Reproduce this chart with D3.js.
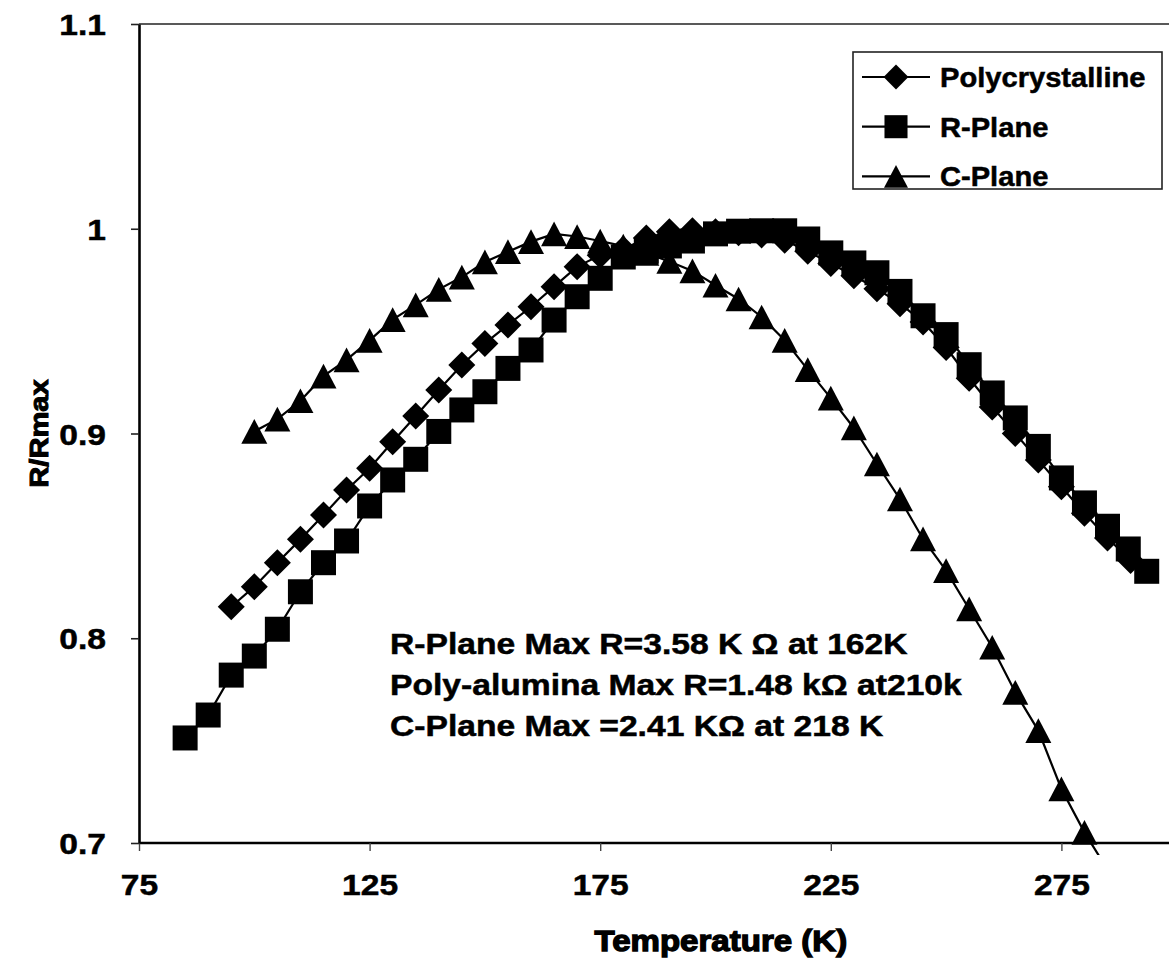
<!DOCTYPE html>
<html>
<head>
<meta charset="utf-8">
<script src="https://cdn.jsdelivr.net/npm/d3@7"></script>
<style>
  html, body { margin: 0; padding: 0; background: #fff; }
  svg { display: block; }
  text { font-family: "Liberation Sans", Arial, sans-serif; font-weight: bold; fill: #000; }
</style>
</head>
<body>
<svg id="chart" width="1169" height="967"></svg>
<script>
// Normalised resistance R/Rmax versus temperature for three alumina samples.
const polyT = [95, 100, 105, 110, 115, 120, 125, 130, 135, 140, 145, 150, 155, 160, 165, 170,
  175, 180, 185, 190, 195, 200, 205, 210, 215, 220, 225, 230, 235, 240, 245, 250, 255, 260,
  265, 270, 275, 280, 285, 290];
const polyR = [0.8154, 0.8252, 0.8369, 0.8483, 0.8602, 0.8724, 0.8830, 0.8960, 0.9086, 0.9212,
  0.9335, 0.9440, 0.9530, 0.9619, 0.9717, 0.9815, 0.9870, 0.9900, 0.9955, 0.9985, 0.9990,
  0.9985, 0.9980, 0.9970, 0.9944, 0.9890, 0.9830, 0.9770, 0.9707, 0.9634, 0.9545, 0.9420,
  0.9270, 0.9130, 0.9000, 0.8870, 0.8740, 0.8610, 0.8490, 0.8380];

const rPlaneT = [85, 90, 95, 100, 105, 110, 115, 120, 125, 130, 135, 140, 145, 150, 155, 160,
  165, 170, 175, 180, 185, 190, 195, 200, 205, 210, 215, 220, 225, 230, 235, 240, 245, 250,
  255, 260, 265, 270, 275, 280, 285, 289.5, 293.5];
const rPlaneR = [0.7513, 0.7625, 0.7820, 0.7913, 0.8044, 0.8227, 0.8369, 0.8475, 0.8646, 0.8773,
  0.8874, 0.9010, 0.9115, 0.9204, 0.9318, 0.9408, 0.9554, 0.9668, 0.9758, 0.9862, 0.9890,
  0.9916, 0.9940, 0.9975, 0.9988, 0.9990, 0.9990, 0.9950, 0.9882, 0.9833, 0.9785, 0.9694,
  0.9575, 0.9483, 0.9336, 0.9198, 0.9076, 0.8937, 0.8783, 0.8661, 0.8547, 0.8436, 0.8327];

const cPlaneT = [100, 105, 110, 115, 120, 125, 130, 135, 140, 145, 150, 155, 160, 165, 170, 175,
  180, 185, 190, 195, 200, 205, 210, 215, 220, 225, 230, 235, 240, 245, 250, 255, 260, 265,
  270, 275, 280, 285];
const cPlaneR = [0.9010, 0.9070, 0.9160, 0.9280, 0.9360, 0.9455, 0.9556, 0.9628, 0.9704, 0.9764,
  0.9838, 0.9888, 0.9937, 0.9975, 0.9962, 0.9940, 0.9915, 0.9880, 0.9840, 0.9794, 0.9724,
  0.9657, 0.9569, 0.9455, 0.9312, 0.9173, 0.9027, 0.8851, 0.8680, 0.8485, 0.8330, 0.8143,
  0.7956, 0.7736, 0.7549, 0.7264, 0.7052, 0.6870];

const seriesNames = ["Polycrystalline", "R-Plane", "C-Plane"];
const xTickValues = [75, 125, 175, 225, 275];
const yTickValues = [0.7, 0.8, 0.9, 1, 1.1];
const annotationLines = [
  "R-Plane Max R=3.58 K \u03A9 at 162K",
  "Poly-alumina Max R=1.48 k\u03A9 at210k",
  "C-Plane Max =2.41 K\u03A9 at 218 K"
];
const xTitle = "Temperature (K)";
const yTitle = "R/Rmax";

// ---- layout ----
const svg = d3.select("#chart");
const plotLeft = 139, plotTop = 24, plotBottom = 843, plotRight = 1169;
const x = d3.scaleLinear().domain([75, 300]).range([plotLeft, plotLeft + 225 * 4.612]);
const y = d3.scaleLinear().domain([0.7, 1.1]).range([plotBottom, plotTop]);
const stretch = 1.12;   // glyphs are set slightly wide
const ink = 0.5;        // extra stroke that thickens the bold glyphs

// Marker shapes centred on their bounding box
const diamond = { draw(ctx, s) { const r = Math.sqrt(s) / 2; ctx.moveTo(0, -r); ctx.lineTo(r, 0); ctx.lineTo(0, r); ctx.lineTo(-r, 0); ctx.closePath(); } };
const square = { draw(ctx, s) { const r = Math.sqrt(s) / 2; ctx.rect(-r, -r, 2 * r, 2 * r); } };
const triangle = { draw(ctx, s) { const w = Math.sqrt(s) / 2; const h = w * 0.95; ctx.moveTo(0, -h); ctx.lineTo(w, h); ctx.lineTo(-w, h); ctx.closePath(); } };

const series = [
  { name: seriesNames[0], T: polyT, R: polyR, shape: diamond, size: 27 * 27 },
  { name: seriesNames[1], T: rPlaneT, R: rPlaneR, shape: square, size: 25 * 25 },
  { name: seriesNames[2], T: cPlaneT, R: cPlaneR, shape: triangle, size: 26 * 26 }
];

// Plot-area frame: top edge
svg.append("line")
  .attr("x1", plotLeft).attr("x2", plotRight).attr("y1", plotTop).attr("y2", plotTop)
  .attr("stroke", "#222").attr("stroke-width", 1.6);

// Clip the data to the plot area (a little slack below the axis)
svg.append("clipPath").attr("id", "plotClip")
  .append("rect").attr("x", plotLeft - 15).attr("y", plotTop - 15)
  .attr("width", plotRight - plotLeft + 15).attr("height", plotBottom - plotTop + 27);

const plot = svg.append("g").attr("clip-path", "url(#plotClip)");
const line = d3.line().x(d => x(d[0])).y(d => y(d[1]));

series.forEach(s => {
  const pts = s.T.map((t, i) => [t, s.R[i]]);
  const g = plot.append("g");
  g.append("path").datum(pts).attr("d", line)
    .attr("fill", "none").attr("stroke", "#000").attr("stroke-width", 2.2);
  const sym = d3.symbol().type(s.shape).size(s.size);
  g.selectAll("path.m").data(pts.filter(p => p[1] >= 0.695)).join("path")
    .attr("class", "m")
    .attr("d", sym)
    .attr("transform", d => `translate(${x(d[0])},${y(d[1])})`)
    .attr("fill", "#000");
});

function styleTickText(sel) {
  sel.style("font-size", "30px")
    .style("font-family", "'Liberation Sans', Arial, sans-serif")
    .style("font-weight", "bold")
    .attr("fill", "#000").attr("stroke", "#000").attr("stroke-width", ink);
}

// Axes
const xAxis = svg.append("g").attr("transform", `translate(0,${plotBottom})`)
  .call(d3.axisBottom(x).tickValues(xTickValues).tickSize(8).tickSizeOuter(0).tickFormat(d3.format("d")));
xAxis.select(".domain").attr("d", `M${plotLeft},0H${plotRight}`).attr("stroke", "#000").attr("stroke-width", 2.6);
xAxis.selectAll(".tick line").attr("stroke", "#444").attr("stroke-width", 1.4);
xAxis.selectAll(".tick text")
  .attr("y", 52).attr("dy", null)
  .attr("transform", `scale(${stretch},1)`)
  .call(styleTickText);

const yAxis = svg.append("g").attr("transform", `translate(${plotLeft},0)`)
  .call(d3.axisLeft(y).tickValues(yTickValues).tickSize(8).tickSizeOuter(0)
    .tickFormat(d => d === 1 ? "1" : d3.format(".1f")(d)));
yAxis.select(".domain").attr("stroke", "#000").attr("stroke-width", 2.6);
yAxis.selectAll(".tick line").attr("stroke", "#222").attr("stroke-width", 1.6);
yAxis.selectAll(".tick text")
  .attr("x", -33 / stretch).attr("dy", "0.35em")
  .attr("transform", `scale(${stretch},1)`)
  .call(styleTickText);

// Axis titles
svg.append("text")
  .attr("transform", `translate(${(x(175) + x(275)) / 2 - 110},951) scale(${stretch},1)`)
  .attr("text-anchor", "middle")
  .style("font-size", "29.5px")
  .attr("stroke", "#000").attr("stroke-width", 1.3)
  .text(xTitle);

svg.append("text")
  .attr("transform", `translate(48,${y(0.9)}) rotate(-90) scale(${stretch},1)`)
  .attr("text-anchor", "middle")
  .style("font-size", "26px")
  .attr("stroke", "#000").attr("stroke-width", 1.0)
  .text(yTitle);

// Annotation
const ann = svg.append("g");
annotationLines.forEach((t, i) => {
  ann.append("text")
    .attr("transform", `translate(390,${654 + i * 41}) scale(1.16,1)`)
    .style("font-size", "29px")
    .attr("stroke", "#000").attr("stroke-width", ink)
    .text(t);
});

// Legend
const lg = svg.append("g");
lg.append("rect").attr("x", 853).attr("y", 52).attr("width", 309).attr("height", 137)
  .attr("fill", "#fff").attr("stroke", "#222").attr("stroke-width", 1.6);
series.forEach((s, i) => {
  const cy = 77 + i * 49.7;
  lg.append("line").attr("x1", 862).attr("x2", 930).attr("y1", cy).attr("y2", cy)
    .attr("stroke", "#000").attr("stroke-width", 2.2);
  lg.append("path").attr("d", d3.symbol().type(s.shape).size(s.size * 0.85)())
    .attr("transform", `translate(896,${cy})`).attr("fill", "#000");
  lg.append("text")
    .attr("transform", `translate(940,${cy + 10}) scale(1.04,1)`)
    .style("font-size", "28px")
    .attr("stroke", "#000").attr("stroke-width", ink)
    .text(s.name);
});
</script>
</body>
</html>
